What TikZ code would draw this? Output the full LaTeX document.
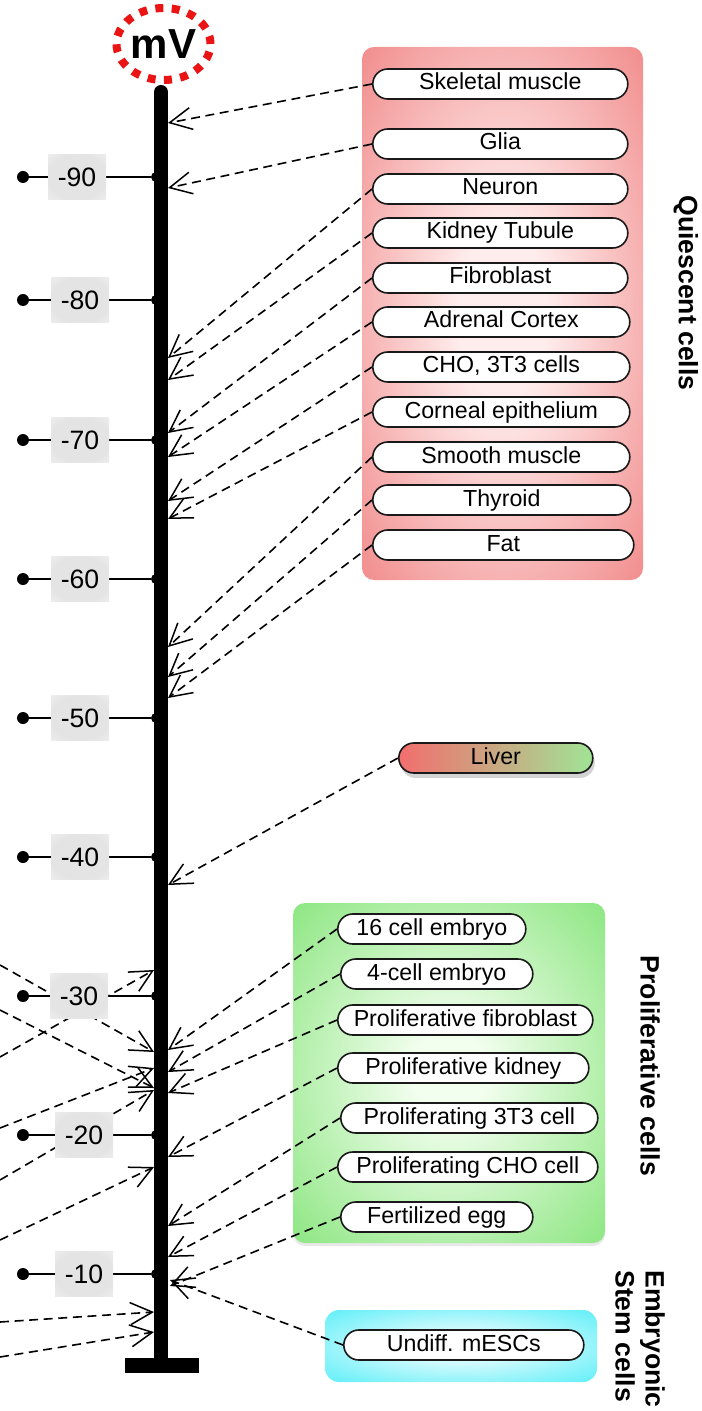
\documentclass[tikz,border=0pt]{standalone}
\usepackage{fontspec}
\setmainfont{Liberation Sans}
\usetikzlibrary{arrows.meta,shapes.geometric,shadows}
\definecolor{qred}{RGB}{236,104,104}
\definecolor{qredin}{RGB}{255,236,236}
\definecolor{pgreen}{RGB}{98,220,84}
\definecolor{pgreenin}{RGB}{242,254,238}
\definecolor{scyan}{RGB}{50,234,246}
\definecolor{scyanin}{RGB}{236,253,254}
\definecolor{lred}{RGB}{242,110,110}
\definecolor{lgreen}{RGB}{160,228,150}
\definecolor{tgray}{RGB}{228,228,228}
\definecolor{tgrayout}{RGB}{250,250,250}
\definecolor{mvred}{RGB}{235,20,20}
\pgfdeclareradialshading{redrad}{\pgfpoint{0bp}{0bp}}{color(0bp)=(qredin); color(8bp)=(qredin); color(46bp)=(qred); color(100bp)=(qred)}
\pgfdeclareradialshading{greenrad}{\pgfpoint{0bp}{0bp}}{color(0bp)=(pgreenin); color(6bp)=(pgreenin); color(48bp)=(pgreen); color(100bp)=(pgreen)}
\pgfdeclareradialshading{cyanrad}{\pgfpoint{0bp}{0bp}}{color(0bp)=(scyanin); color(6bp)=(scyanin); color(45bp)=(scyan); color(100bp)=(scyan)}
\pgfdeclareradialshading{grayrad}{\pgfpoint{0bp}{0bp}}{color(0bp)=(tgray); color(25bp)=(tgray); color(50bp)=(tgrayout); color(100bp)=(tgrayout)}
\pgfdeclarelayer{back}
\pgfdeclarelayer{mid}
\pgfsetlayers{back,mid,main}
\begin{document}
\begin{tikzpicture}[x=0.5pt,y=-0.5pt,
  cell/.style={draw=black!90, line width=0.8pt, fill=white, rounded corners=7.5pt, minimum height=15pt, inner sep=0pt, anchor=west, text height=8.4pt, text depth=2.4pt, font=\fontsize{11.6pt}{13pt}\selectfont},
  conn/.style={line width=0.8pt, dash pattern=on 4.5pt off 2.8pt, -{Straight Barb[length=11pt,width=11pt,line width=0.75pt]}},
  grp/.style={rounded corners=6pt, inner sep=0pt, shade},
  grplabel/.style={font=\bfseries\fontsize{13.3pt}{15pt}\selectfont, rotate=-90, inner sep=0pt},
  tickdot/.style={circle, fill=black, inner sep=0pt, minimum size=6pt},
  axdot/.style={circle, fill=black, inner sep=0pt, minimum size=5pt},
  ticklab/.style={shade, shading=grayrad, minimum width=29pt, minimum height=22.5pt, inner sep=0pt, font=\fontsize{13.3pt}{15pt}\selectfont},
  tline/.style={line width=1pt}
]
\useasboundingbox (0,0) rectangle (701,1411);

% group boxes
\begin{pgfonlayer}{back}
\node[grp, shading=redrad, minimum width=140.5pt, minimum height=266.5pt] (qbox) at (502.5,313.5) {};
\node[grp, shading=greenrad, minimum width=156pt, minimum height=170pt, drop shadow={opacity=0.18,shadow xshift=0pt,shadow yshift=-1.5pt}] (pbox) at (449,1073) {};
\node[grp, shading=cyanrad, minimum width=136pt, minimum height=36pt, rounded corners=7pt] (sbox) at (461,1346) {};
\end{pgfonlayer}

% group labels
\node[grplabel] (qlab) at (686,293) {Quiescent cells};
\node[grplabel] (plab) at (650,1066) {Proliferative cells};
\node[grplabel, align=left] (slab) at (640,1339) {Embryonic\\Stem cells};

% mV
\node[ellipse, draw=mvred, line width=4pt, dash pattern=on 4pt off 4.2pt, minimum width=47pt, minimum height=36pt, inner sep=0pt, font=\bfseries\fontsize{21pt}{24pt}\selectfont] (mv) at (163.5,44) {mV};

% axis
\coordinate (axtop) at (161,92);
\coordinate (axbot) at (161,1362);
\draw[line width=7pt, line cap=round] (axtop) -- (axbot);
\fill (125,1358) rectangle (199,1373);

% ticks
\foreach \v/\yy/\xx [count=\i] in {-90/177/77,-80/300/80,-70/440/80,-60/579/80,-50/718/80,-40/857/80,-30/996/79,-20/1135/84,-10/1274/84} {
  \node[tickdot] (td\i) at (23,\yy) {};
  \node[axdot] (ta\i) at (156,\yy) {};
  \node[ticklab] (tl\i) at (\xx,\yy) {\v};
  \begin{pgfonlayer}{mid}
    \draw[tline] (td\i) -- (ta\i);
  \end{pgfonlayer}
}

% quiescent cells
\node[cell, minimum width=127.5pt] (sk) at (372,84) {Skeletal muscle};
\node[cell, minimum width=127.5pt] (gl) at (372,144) {Glia};
\node[cell, minimum width=127.5pt] (ne) at (372,189) {Neuron};
\node[cell, minimum width=127.5pt] (kt) at (372,233) {Kidney Tubule};
\node[cell, minimum width=127.5pt] (fb) at (372,278) {Fibroblast};
\node[cell, minimum width=128.5pt] (ac) at (372,322) {Adrenal Cortex};
\node[cell, minimum width=128.5pt] (ch) at (372,367) {CHO, 3T3 cells};
\node[cell, minimum width=128.5pt] (co) at (372,412) {Corneal epithelium};
\node[cell, minimum width=128.5pt] (sm) at (372,457) {Smooth muscle};
\node[cell, minimum width=129pt] (th) at (372,500) {Thyroid};
\node[cell, minimum width=130.5pt] (fa) at (372,545) {Fat};

% liver
\node[cell, minimum width=97pt, left color=lred, right color=lgreen, drop shadow={opacity=0.35,shadow xshift=1pt,shadow yshift=-2.5pt}] (li) at (398,758) {Liver};

% proliferative cells
\node[cell, minimum width=94pt] (e16) at (337,929) {16 cell embryo};
\node[cell, minimum width=96pt] (e4) at (340,974) {4-cell embryo};
\node[cell, minimum width=127.5pt] (pf) at (337,1020) {Proliferative fibroblast};
\node[cell, minimum width=125.5pt] (pk) at (337,1068) {Proliferative kidney};
\node[cell, minimum width=128.5pt] (p3) at (340,1118) {Proliferating 3T3 cell};
\node[cell, minimum width=130pt] (pc) at (337,1167) {Proliferating CHO cell};
\node[cell, minimum width=96pt] (fe) at (340,1217) {Fertilized egg};

% stem cells
\node[cell, minimum width=120pt] (me) at (343,1345) {Undiff. mESCs};

% arrow targets on the axis (right side)
\coordinate (tsk) at (168,123);
\coordinate (tgl) at (168,188);
\coordinate (tne) at (168,358);
\coordinate (tkt) at (168,380);
\coordinate (tfb) at (168,433);
\coordinate (tac) at (168,457);
\coordinate (tch) at (168,501);
\coordinate (tco) at (168,519);
\coordinate (tsm) at (168,647);
\coordinate (tth) at (168,677);
\coordinate (tfa) at (168,698);
\coordinate (tli) at (168,885);
\coordinate (te16) at (168,1050);
\coordinate (te4) at (168,1072);
\coordinate (tpf) at (168,1093);
\coordinate (tpk) at (168,1157);
\coordinate (tp3) at (168,1226);
\coordinate (tpc) at (168,1257);
\coordinate (tfe) at (170,1286);
\coordinate (tme) at (170,1280);

% left-side lines (sources outside the picture)
\coordinate (sA) at (0,965);  \coordinate (eA) at (154,1052);
\coordinate (sB) at (0,1010); \coordinate (eB) at (154,1088);
\coordinate (sC) at (0,1057); \coordinate (eC) at (154,970);
\coordinate (sD) at (0,1128); \coordinate (eD) at (154,1068);
\coordinate (sE) at (0,1180); \coordinate (eE) at (154,1090);
\coordinate (sF) at (0,1240); \coordinate (eF) at (154,1167);
\coordinate (sG) at (0,1322); \coordinate (eG) at (154,1312);
\coordinate (sH) at (0,1357); \coordinate (eH) at (154,1332);

\begin{pgfonlayer}{mid}
\foreach \n in {sk,gl,ne,kt,fb,ac,ch,co,sm,th,fa,li,e16,e4,pf,pk,p3,pc,fe,me} {
  \draw[conn] (\n.west) -- (t\n);
}
\foreach \n in {A,B,C,D,E,F,G,H} {
  \draw[conn] (s\n) -- (e\n);
}
\end{pgfonlayer}
\end{tikzpicture}
\end{document}
